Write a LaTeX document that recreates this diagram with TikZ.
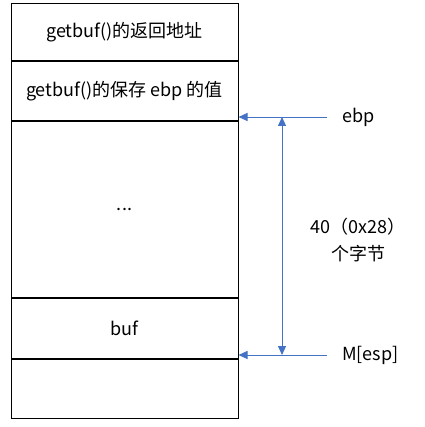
\documentclass[tikz,border=0pt]{standalone}
\usepackage{fontspec}
\setmainfont{Noto Sans CJK SC}
\usetikzlibrary{arrows.meta,positioning}
\definecolor{arrowblue}{HTML}{4472C4}

\begin{document}
\begin{tikzpicture}[x=1pt,y=-1pt,>={Triangle[length=9pt,width=8pt]},
        font=\fontsize{18}{27}\selectfont,
        cell/.style={draw,line width=1pt,minimum width=227pt,inner sep=0pt,anchor=north},
        ptr/.style={arrowblue,line width=0.9pt,->},
        lbl/.style={inner sep=0pt,anchor=west}]
        \useasboundingbox (0,0) rectangle (424,427);
        \node[cell,minimum height=57pt] (ret) at (124.5,3) {getbuf()的返回地址};
        \node[cell,minimum height=59pt] (saved) [below=0pt of ret] {getbuf()的保存 ebp 的值};
        \node[cell,minimum height=176pt] (mid) [below=0pt of saved] {...};
        \node[cell,minimum height=60pt] (buf) [below=0pt of mid] {buf};
        \node[cell,minimum height=59pt] (low) [below=0pt of buf] {};
        \coordinate (ebpend) at (327,117);
        \coordinate (espend) at (327,355);
        \coordinate (vtop) at (282,117);
        \coordinate (vbot) at (282,355);
        \node[lbl] (ebplbl) [right=15pt of ebpend] {ebp};
        \node[lbl] (esplbl) [right=15pt of espend] {M[esp]};
        \node[align=center,inner sep=0pt] (size) at (358,240) {40（0x28）\\个字节};
        \draw[ptr] (ebpend) -- (ebpend -| mid.east);
        \draw[ptr] (espend) -- (espend -| buf.east);
        \draw[ptr,<->] (vtop) -- (vbot);
\end{tikzpicture}
\end{document}
